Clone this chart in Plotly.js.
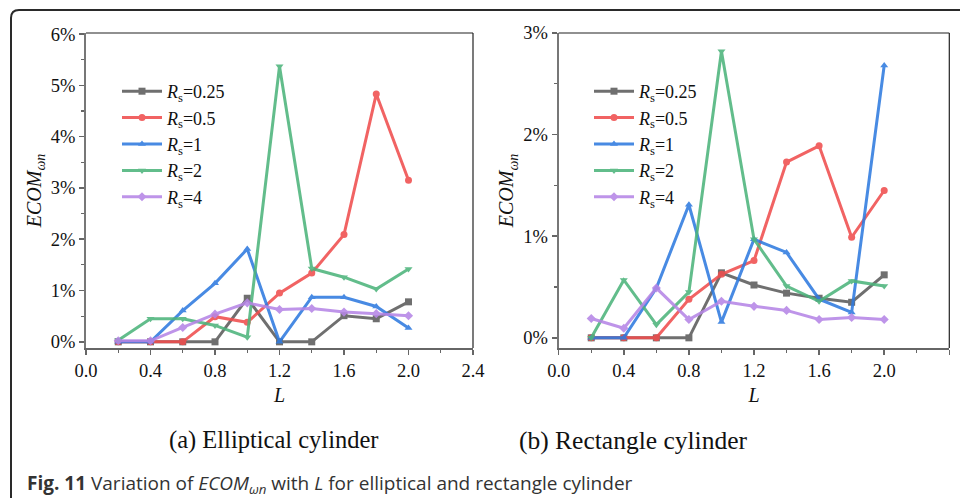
<!DOCTYPE html>
<html>
<head>
<meta charset="utf-8">
<script src="https://cdn.plot.ly/plotly-3.0.1.min.js"></script>
<style>html,body{margin:0;padding:0;background:#fff;}#chart{width:960px;height:498px;}</style>
</head>
<body>
<div id="chart"></div>
<script>
// L values (shared x)
const L = [0.2, 0.4, 0.6, 0.8, 1.0, 1.2, 1.4, 1.6, 1.8, 2.0];
const seriesNames = ["<i>R</i><sub>s</sub>=0.25", "<i>R</i><sub>s</sub>=0.5", "<i>R</i><sub>s</sub>=1", "<i>R</i><sub>s</sub>=2", "<i>R</i><sub>s</sub>=4"];

// (a) Elliptical cylinder, ECOM in %
const ellRs025 = [0, 0, 0, 0, 0.85, 0, 0, 0.51, 0.45, 0.78];
const ellRs05  = [0, 0, 0, 0.49, 0.38, 0.95, 1.34, 2.09, 4.83, 3.15];
const ellRs1   = [0, 0, 0.61, 1.14, 1.81, 0, 0.87, 0.87, 0.69, 0.27];
const ellRs2   = [0.03, 0.45, 0.45, 0.32, 0.09, 5.37, 1.43, 1.26, 1.03, 1.42];
const ellRs4   = [0.02, 0.02, 0.28, 0.54, 0.76, 0.63, 0.65, 0.58, 0.55, 0.51];

// (b) Rectangle cylinder, ECOM in %
const recRs025 = [0, 0, 0, 0, 0.64, 0.52, 0.44, 0.39, 0.35, 0.62];
const recRs05  = [0, 0, 0, 0.38, 0.625, 0.76, 1.73, 1.89, 0.99, 1.45];
const recRs1   = [0, 0, 0.49, 1.31, 0.155, 0.97, 0.84, 0.38, 0.25, 2.68];
const recRs2   = [0, 0.57, 0.13, 0.45, 2.82, 0.97, 0.51, 0.36, 0.56, 0.51];
const recRs4   = [0.19, 0.095, 0.49, 0.18, 0.36, 0.31, 0.27, 0.18, 0.20, 0.18];

const colors = ["#5c5c5c", "#f04e4e", "#2f7be0", "#4db47c", "#b686e6"];
const symbols = ["square", "circle", "triangle-up", "triangle-down", "diamond"];

function makeTraces(seriesList, xa, ya, legendId) {
  return seriesList.map((ys, i) => ({
    type: "scatter", mode: "lines+markers",
    x: L, y: ys, xaxis: xa, yaxis: ya,
    name: seriesNames[i], legend: legendId, legendgroup: legendId + i,
    opacity: 0.88,
    line: {color: colors[i], width: 3},
    marker: {color: colors[i], symbol: symbols[i], size: 7}
  }));
}

const data = [].concat(
  makeTraces([ellRs025, ellRs05, ellRs1, ellRs2, ellRs4], "x", "y", "legend"),
  makeTraces([recRs025, recRs05, recRs1, recRs2, recRs4], "x2", "y2", "legend2")
);

const serif = "Liberation Serif, Times New Roman, serif";

function xAxis(domain, anchor) {
  return {
    domain: domain, anchor: anchor, range: [0, 2.4], dtick: 0.4, tick0: 0,
    tickformat: ".1f", ticks: "outside", ticklen: 5, tickwidth: 1.5, tickcolor: "#666",
    minor: {dtick: 0.2, ticks: "outside", ticklen: 3, tickcolor: "#666", tickwidth: 1.2},
    showline: true, linecolor: "#666", linewidth: 2, showgrid: false, zeroline: false,
    tickfont: {family: serif, size: 18.5, color: "#111"},
    title: {text: "<i>L</i>", font: {family: serif, size: 20, color: "#111"}, standoff: 8}
  };
}
function yAxis(domain, anchor, range) {
  return {
    domain: domain, anchor: anchor, range: range, dtick: 1, tick0: 0, ticksuffix: "%",
    ticks: "outside", ticklen: 5, tickwidth: 1.5, tickcolor: "#666",
    minor: {dtick: 0.5, ticks: "outside", ticklen: 3, tickcolor: "#666", tickwidth: 1.2},
    showline: true, linecolor: "#777", linewidth: 2, showgrid: false, zeroline: false,
    tickfont: {family: serif, size: 18.5, color: "#111"},
    title: {text: "<i>ECOM</i><sub><i>ωn</i></sub>", font: {family: serif, size: 20, color: "#111"}, standoff: 4}
  };
}

const yDom = [150/498, 465/498];
const xDomA = [86/960, 473/960];
const xDomB = [558.7/960, 949.3/960];

function legendAt(xpx, ypx) {
  return {
    font: {family: serif, size: 18, color: "#111"},
    bgcolor: "rgba(0,0,0,0)", borderwidth: 0, traceorder: "grouped",
    tracegroupgap: 0, itemwidth: 40, yanchor: "top", xanchor: "left",
    x: xpx/960, y: (498-ypx)/498
  };
}

const fx = 11/960, fy = (498-10)/498, rx = 8/960, ry = 8/498;

const layout = {
  width: 960, height: 498,
  margin: {l: 0, r: 0, t: 0, b: 0},
  paper_bgcolor: "#ffffff", plot_bgcolor: "#ffffff",
  showlegend: true,
  xaxis: xAxis(xDomA, "y"),
  yaxis: yAxis(yDom, "x", [-0.12, 6.02]),
  xaxis2: xAxis(xDomB, "y2"),
  yaxis2: yAxis(yDom, "x2", [-0.1, 3.0]),
  legend: legendAt(117, 73),
  legend2: legendAt(589, 73),
  shapes: [
    {type: "line", xref: "paper", yref: "paper", x0: xDomA[0], x1: xDomA[1], y0: yDom[1], y1: yDom[1], line: {color: "#222", width: 1.2}},
    {type: "line", xref: "paper", yref: "paper", x0: xDomA[1], x1: xDomA[1], y0: yDom[0], y1: yDom[1], line: {color: "#222", width: 1.2}},
    {type: "line", xref: "paper", yref: "paper", x0: xDomB[0], x1: xDomB[1], y0: yDom[1], y1: yDom[1], line: {color: "#222", width: 1.2}},
    {type: "line", xref: "paper", yref: "paper", x0: xDomB[1], x1: xDomB[1], y0: yDom[0], y1: yDom[1], line: {color: "#222", width: 1.2}},
    {type: "path", xref: "paper", yref: "paper",
     path: `M ${fx},-0.05 L ${fx},${fy-ry} Q ${fx},${fy} ${fx+rx},${fy} L 1.05,${fy}`,
     line: {color: "#2a2a2a", width: 2}}
  ],
  annotations: [
    {xref: "paper", yref: "paper", x: 274/960, y: (498-440)/498, xanchor: "center", yanchor: "middle", showarrow: false,
     text: "(a) Elliptical cylinder", font: {family: serif, size: 24.5, color: "#111"}},
    {xref: "paper", yref: "paper", x: 633/960, y: (498-440)/498, xanchor: "center", yanchor: "middle", showarrow: false,
     text: "(b) Rectangle cylinder", font: {family: serif, size: 25.5, color: "#111"}},
    {xref: "paper", yref: "paper", x: 25/960, y: (498-484)/498, xanchor: "left", yanchor: "middle", showarrow: false,
     text: "<b>Fig. 11</b> Variation of <i>ECOM</i><sub><i>ωn</i></sub> with <i>L</i> for elliptical and rectangle cylinder",
     font: {family: "Open Sans, Noto Sans, sans-serif", size: 19, color: "#333"}}
  ]
};

Plotly.newPlot("chart", data, layout, {displayModeBar: false, staticPlot: true});
</script>
</body>
</html>
